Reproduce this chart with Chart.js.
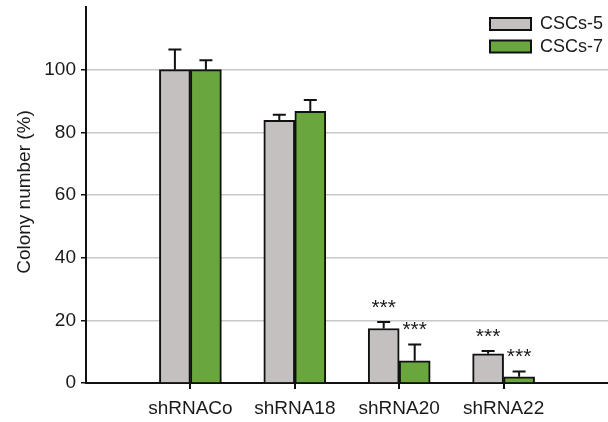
<!DOCTYPE html>
<html>
<head>
<meta charset="utf-8">
<script src="https://cdn.jsdelivr.net/npm/chart.js@4.4.1/dist/chart.umd.min.js"></script>
<style>
    body { margin: 0; background: #fff; }
    #wrap { width: 608px; height: 422px; position: relative; }
</style>
</head>
<body>
<div id="wrap"><canvas id="colonyChart"></canvas></div>
<script>
// empty slots at both ends keep the groups where the figure has them
const categories = ['', 'shRNACo', 'shRNA18', 'shRNA20', 'shRNA22', ''];
const seriesNames = ['CSCs-5', 'CSCs-7'];
const cscs5 = [null, 100, 83.8, 17.4, 9.3, null];
const cscs5Err = [null, 6.4, 1.8, 2.1, 0.9, null];
const cscs7 = [null, 100, 86.7, 7.1, 2.0, null];
const cscs7Err = [null, 3.0, 3.6, 5.2, 1.7, null];
const cscs5Stars = ['', '', '', '***', '***', ''];
const cscs7Stars = ['', '', '', '***', '***', ''];
const yTicks = [0, 20, 40, 60, 80, 100];
const yTitle = 'Colony number (%)';

const FONT = "'Liberation Sans', Arial, Helvetica, sans-serif";
Chart.defaults.font.family = FONT;
Chart.defaults.font.size = 19;
Chart.defaults.color = '#1a1a1a';

const errors = [cscs5Err, cscs7Err];
const stars = [cscs5Stars, cscs7Stars];

// error bars (upper only) and significance marks
const errorBarPlugin = {
    id: 'errorBars',
    afterDatasetsDraw(chart) {
        const ctx = chart.ctx;
        const yScale = chart.scales.y;
        chart.data.datasets.forEach((ds, i) => {
            const meta = chart.getDatasetMeta(i);
            meta.data.forEach((bar, j) => {
                const v = ds.data[j];
                const e = errors[i][j];
                if (v == null) return;
                const top = yScale.getPixelForValue(v + (e || 0));
                ctx.save();
                if (e) {
                    ctx.strokeStyle = '#111';
                    ctx.lineWidth = 2;
                    ctx.beginPath();
                    ctx.moveTo(bar.x, bar.y);
                    ctx.lineTo(bar.x, top);
                    ctx.moveTo(bar.x - 6.5, top);
                    ctx.lineTo(bar.x + 6.5, top);
                    ctx.stroke();
                }
                if (stars[i][j]) {
                    ctx.fillStyle = '#1a1a1a';
                    ctx.font = '21px ' + FONT;
                    ctx.textAlign = 'center';
                    ctx.textBaseline = 'middle';
                    ctx.fillText(stars[i][j], bar.x, top - 14);
                }
                ctx.restore();
            });
        });
    }
};

// legend and y title drawn by hand to sit like in the figure
const decorPlugin = {
    id: 'decor',
    afterDraw(chart) {
        const ctx = chart.ctx;
        ctx.save();
        chart.data.datasets.forEach((ds, i) => {
            const y = 18 + i * 22.5;
            ctx.fillStyle = ds.backgroundColor;
            ctx.fillRect(490, y, 41, 12);
            ctx.strokeStyle = '#111';
            ctx.lineWidth = 2;
            ctx.strokeRect(490, y, 41, 12);
            ctx.fillStyle = '#1a1a1a';
            ctx.font = '18px ' + FONT;
            ctx.textAlign = 'left';
            ctx.textBaseline = 'middle';
            ctx.fillText(ds.label, 540, y + 6.5);
        });
        ctx.translate(25, 192);
        ctx.rotate(-Math.PI / 2);
        ctx.font = '19px ' + FONT;
        ctx.textAlign = 'center';
        ctx.textBaseline = 'middle';
        ctx.fillText(yTitle, 0, 0);
        ctx.restore();
    }
};

const noPadding = (scale) => {
    scale.paddingLeft = 0;
    scale.paddingRight = 0;
    scale.paddingTop = 0;
    scale.paddingBottom = 0;
};

new Chart(document.getElementById('colonyChart').getContext('2d'), {
    type: 'bar',
    data: {
        labels: categories,
        datasets: [
            {
                label: seriesNames[0],
                data: cscs5,
                backgroundColor: '#c4c0c0',
                borderColor: '#111',
                borderWidth: 2,
                borderSkipped: 'bottom',
                barThickness: 31
            },
            {
                label: seriesNames[1],
                data: cscs7,
                backgroundColor: '#6aa63e',
                borderColor: '#111',
                borderWidth: 2,
                borderSkipped: 'bottom',
                barThickness: 31
            }
        ]
    },
    options: {
        responsive: true,
        maintainAspectRatio: false,
        animation: false,
        layout: { padding: { top: 7, right: 0, left: 0, bottom: 0 } },
        plugins: {
            legend: { display: false },
            tooltip: { enabled: false }
        },
        scales: {
            x: {
                offset: false,
                grid: {
                    offset: false,
                    drawOnChartArea: false,
                    drawTicks: true,
                    tickLength: 6,
                    color: '#111',
                    tickColor: (c) => (categories[c.index] ? '#111' : 'rgba(0,0,0,0)'),
                    lineWidth: 2
                },
                border: { color: '#111', width: 2 },
                ticks: { padding: 8, maxRotation: 0, autoSkip: false },
                afterFit(scale) { scale.height = 39; noPadding(scale); }
            },
            y: {
                min: 0,
                max: 120,
                afterBuildTicks(scale) {
                    scale.ticks = yTicks.map(v => ({ value: v }));
                },
                grid: {
                    color: '#c8c8c8',
                    lineWidth: 1.5,
                    tickColor: '#111',
                    tickLength: 5
                },
                border: { color: '#111', width: 2 },
                ticks: { padding: 5 },
                afterFit(scale) { scale.width = 86; noPadding(scale); }
            }
        }
    },
    plugins: [errorBarPlugin, decorPlugin]
});
</script>
</body>
</html>
